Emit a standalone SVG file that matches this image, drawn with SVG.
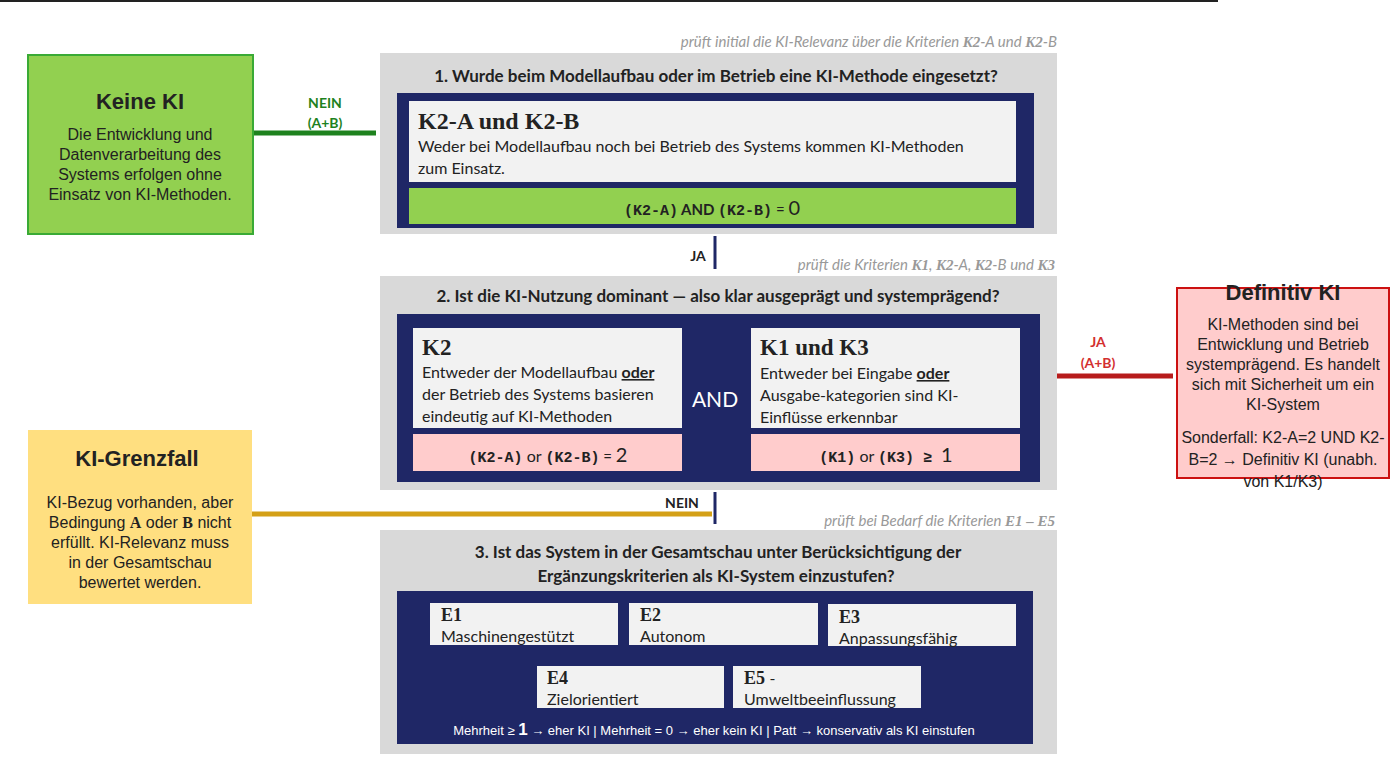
<svg xmlns="http://www.w3.org/2000/svg" width="1400" height="766" viewBox="0 0 1400 766">
<style>
.gray{fill:#d9d9d9}
.navy{fill:#1f2766}
.wbox{fill:#f2f2f2}
.q{font-family:Lato,"Open Sans",sans-serif;font-weight:bold;font-size:17px;fill:#222;text-anchor:middle}
.note{font-family:Lato,sans-serif;font-style:italic;font-size:15px;fill:#999;text-anchor:end}
.ser{font-family:"Liberation Serif",serif;font-weight:bold}
.body{font-family:Lato,"Open Sans",sans-serif;font-size:16px;fill:#222}
.mono{font-family:"Liberation Mono",monospace;font-weight:bold;font-size:15px}
.ar{font-family:"Liberation Sans",Arial,sans-serif;fill:#222;text-anchor:middle}
.lbl{font-family:Lato,sans-serif;font-weight:bold;font-size:14px;text-anchor:middle}
</style>
<line x1="0" y1="1" x2="1218" y2="1" stroke="#222" stroke-width="2"/>
<g id="connectors">
<line x1="253" y1="133" x2="376" y2="133" stroke="#1e821e" stroke-width="5"/>
<text class="lbl" x="325" y="108" fill="#1e821e">NEIN</text>
<text class="lbl" x="325" y="128" fill="#1e821e">(A+B)</text>
<line x1="715" y1="236" x2="715" y2="269" stroke="#1f2766" stroke-width="3"/>
<text class="lbl" x="698" y="261" fill="#222">JA</text>
<line x1="1037" y1="376" x2="1173" y2="376" stroke="#b71c1c" stroke-width="5"/>
<text class="lbl" x="1098" y="347" fill="#d32f2f">JA</text>
<text class="lbl" x="1098" y="368" fill="#d32f2f">(A+B)</text>
<line x1="715" y1="492" x2="715" y2="524" stroke="#1f2766" stroke-width="3"/>
<text class="lbl" x="682" y="508" fill="#222">NEIN</text>
<line x1="252" y1="514" x2="712" y2="514" stroke="#d4a017" stroke-width="5"/>
</g>
<g id="q1">
<text class="note" x="1057" y="47">prüft initial die KI-Relevanz über die Kriterien <tspan class="ser">K2</tspan>-A und <tspan class="ser">K2</tspan>-B</text>
<rect class="gray" x="380" y="53" width="677" height="181"/>
<text class="q" x="716" y="82">1. Wurde beim Modellaufbau oder im Betrieb eine KI-Methode eingesetzt?</text>
<rect class="navy" x="397" y="93" width="637" height="135"/>
<rect class="wbox" x="409" y="101" width="607" height="81"/>
<text class="ser" x="418" y="129" font-size="24" fill="#222">K2-A und K2-B</text>
<text class="body" x="418" y="152">Weder bei Modellaufbau noch bei Betrieb des Systems kommen KI-Methoden</text>
<text class="body" x="418" y="174">zum Einsatz.</text>
<rect x="409" y="188" width="607" height="36" fill="#92d050"/>
<text x="712" y="215" text-anchor="middle" fill="#222"><tspan class="mono">(K2-A)</tspan><tspan font-family="Lato,sans-serif" font-weight="bold" font-size="15"> AND </tspan><tspan class="mono">(K2-B)</tspan><tspan font-family="Lato,sans-serif" font-size="15"> = </tspan><tspan font-family="Lato,sans-serif" font-size="20">0</tspan></text>
</g>
<g id="q2">
<text class="note" x="1055" y="270">prüft die Kriterien <tspan class="ser">K1</tspan>, <tspan class="ser">K2</tspan>-A, <tspan class="ser">K2</tspan>-B und <tspan class="ser">K3</tspan></text>
<rect class="gray" x="380" y="276" width="677" height="214"/>
<text class="q" x="718" y="302">2. Ist die KI-Nutzung dominant — also klar ausgeprägt und systemprägend?</text>
<rect class="navy" x="397" y="314" width="643" height="168"/>
<rect class="wbox" x="413" y="328" width="269" height="100"/>
<text class="ser" x="422" y="355" font-size="23" fill="#222">K2</text>
<text class="body" x="422" y="378">Entweder der Modellaufbau <tspan font-weight="bold" text-decoration="underline">oder</tspan></text>
<text class="body" x="422" y="400">der Betrieb des Systems basieren</text>
<text class="body" x="422" y="422">eindeutig auf KI-Methoden</text>
<rect x="413" y="434" width="269" height="37" fill="#ffcccc"/>
<text x="548" y="462" text-anchor="middle" fill="#222"><tspan class="mono">(K2-A)</tspan><tspan font-family="Lato,sans-serif" font-size="16"> or </tspan><tspan class="mono">(K2-B)</tspan><tspan font-family="Lato,sans-serif" font-size="15"> = </tspan><tspan font-family="Lato,sans-serif" font-size="20">2</tspan></text>
<text x="715" y="407" text-anchor="middle" fill="#fff" font-family="Lato,sans-serif" font-size="21">AND</text>
<rect class="wbox" x="751" y="328" width="269" height="100"/>
<text class="ser" x="760" y="355" font-size="23" fill="#222">K1 und K3</text>
<text class="body" x="760" y="379">Entweder bei Eingabe <tspan font-weight="bold" text-decoration="underline">oder</tspan></text>
<text class="body" x="760" y="401">Ausgabe-kategorien sind KI-</text>
<text class="body" x="760" y="423">Einflüsse erkennbar</text>
<rect x="751" y="434" width="269" height="37" fill="#ffcccc"/>
<text x="886" y="462" text-anchor="middle" fill="#222"><tspan class="mono">(K1)</tspan><tspan font-family="Lato,sans-serif" font-size="16"> or </tspan><tspan class="mono">(K3) ≥ </tspan><tspan font-family="Lato,sans-serif" font-size="20">1</tspan></text>
</g>
<g id="q3">
<text class="note" x="1055" y="526">prüft bei Bedarf die Kriterien <tspan class="ser">E1 – E5</tspan></text>
<rect class="gray" x="380" y="530" width="677" height="224"/>
<text class="q" x="718" y="558">3. Ist das System in der Gesamtschau unter Berücksichtigung der</text>
<text class="q" x="716" y="582">Ergänzungskriterien als KI-System einzustufen?</text>
<rect class="navy" x="397" y="591" width="636" height="153"/>
<rect class="wbox" x="430" y="603" width="188" height="42"/>
<text class="ser" x="441" y="621" font-size="18" fill="#222">E1</text>
<text class="body" x="441" y="642">Maschinengestützt</text>
<rect class="wbox" x="629" y="603" width="189" height="42"/>
<text class="ser" x="640" y="621" font-size="18" fill="#222">E2</text>
<text class="body" x="640" y="642">Autonom</text>
<rect class="wbox" x="828" y="604" width="188" height="42"/>
<text class="ser" x="839" y="623" font-size="18" fill="#222">E3</text>
<text class="body" x="839" y="644">Anpassungsfähig</text>
<rect class="wbox" x="537" y="666" width="187" height="42"/>
<text class="ser" x="547" y="684" font-size="18" fill="#222">E4</text>
<text class="body" x="547" y="705">Zielorientiert</text>
<rect class="wbox" x="733" y="666" width="188" height="42"/>
<text class="ser" x="744" y="684" font-size="18" fill="#222">E5 <tspan font-family="Lato,sans-serif" font-weight="normal" font-size="16">-</tspan></text>
<text class="body" x="744" y="705">Umweltbeeinflussung</text>
<text x="714" y="735" text-anchor="middle" fill="#fff" font-family="'Liberation Sans',Arial,sans-serif" font-size="13">Mehrheit ≥ <tspan font-size="17" font-weight="bold">1</tspan>  →  eher KI |   Mehrheit = 0  → eher kein KI  |   Patt  →  konservativ als KI einstufen</text>
</g>
<g id="keine-ki">
<rect x="28" y="55" width="225" height="179" fill="#92d050" stroke="#3aaa35" stroke-width="2"/>
<text class="ar" x="140" y="109" font-size="22" font-weight="bold">Keine KI</text>
<text class="ar" x="140" y="140" font-size="16">Die Entwicklung und</text>
<text class="ar" x="140" y="160" font-size="16">Datenverarbeitung des</text>
<text class="ar" x="140" y="180" font-size="16">Systems erfolgen ohne</text>
<text class="ar" x="140" y="200" font-size="16">Einsatz von KI-Methoden.</text>
</g>
<g id="grenzfall">
<rect x="28" y="430" width="224" height="174" fill="#ffdf80"/>
<text class="ar" x="137" y="466" font-size="22" font-weight="bold">KI-Grenzfall</text>
<text class="ar" x="140" y="508" font-size="16">KI-Bezug vorhanden, aber</text>
<text class="ar" x="140" y="528" font-size="16">Bedingung <tspan font-family="'Liberation Serif',serif" font-weight="bold">A</tspan> oder <tspan font-family="'Liberation Serif',serif" font-weight="bold">B</tspan> nicht</text>
<text class="ar" x="140" y="548" font-size="16">erfüllt. KI-Relevanz muss</text>
<text class="ar" x="140" y="568" font-size="16">in der Gesamtschau</text>
<text class="ar" x="140" y="588" font-size="16">bewertet werden.</text>
</g>
<g id="definitiv-ki">
<rect x="1177" y="288" width="212" height="190" fill="#ffcccc" stroke="#cc1111" stroke-width="2"/>
<text class="ar" x="1283" y="300" font-size="22" font-weight="bold">Definitiv KI</text>
<text class="ar" x="1283" y="330" font-size="16">KI-Methoden sind bei</text>
<text class="ar" x="1283" y="350" font-size="16">Entwicklung und Betrieb</text>
<text class="ar" x="1283" y="370" font-size="16">systemprägend. Es handelt</text>
<text class="ar" x="1283" y="390" font-size="16">sich mit Sicherheit um ein</text>
<text class="ar" x="1283" y="410" font-size="16">KI-System</text>
<text class="ar" x="1283" y="443" font-size="16">Sonderfall: K2-A=2 UND K2-</text>
<text class="ar" x="1283" y="465" font-size="16">B=2 → Definitiv KI (unabh.</text>
<text class="ar" x="1283" y="487" font-size="16">von K1/K3)</text>
</g>
</svg>
